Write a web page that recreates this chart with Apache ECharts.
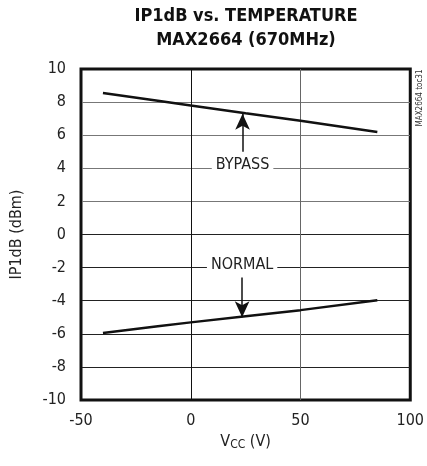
<!DOCTYPE html>
<html><head><meta charset="utf-8">
<script src="https://cdn.jsdelivr.net/npm/echarts@6/dist/echarts.min.js"></script>
<style>html,body{margin:0;padding:0;background:#fff}#c{width:427px;height:466px}</style>
</head><body><div id="c"></div>
<script>
var FONT = "'Liberation Sans Narrow', 'DejaVu Sans Condensed', 'Roboto', sans-serif";
var temps = [-40, -15, 0, 25, 50, 85];
var bypass = [8.55, 8.08, 7.79, 7.32, 6.87, 6.2];
var normal = [-5.95, -5.55, -5.31, -4.94, -4.57, -3.97];
var xTicks = [-50, 0, 50, 100];
var yTicks = [-10, -8, -6, -4, -2, 0, 2, 4, 6, 8, 10];
var bypassArrow = [[23.6, 5.0], [23.6, 7.3]];
var normalArrow = [[23.4, -2.6], [23.4, -5.0]];
var bypassLabel = [23.6, 4];
var normalLabel = [23.4, -2];

function pairs(xs, ys){ return xs.map(function(x,i){return [x, ys[i]];}); }

var chart = echarts.init(document.getElementById('c'));
chart.setOption({
  animation: false,
  backgroundColor: '#fff',
  grid: {left: 81, right: 13, top: 69, bottom: 66, show: true, borderColor: '#111', borderWidth: 3},
  xAxis: {
    type: 'value', min: xTicks[0], max: xTicks[xTicks.length-1], interval: 50,
    axisLine: {show: false}, axisTick: {show: false},
    splitLine: {show: true, lineStyle: {color: ['#111', '#111', '#666', '#111'], width: 1}},
    axisLabel: {fontFamily: FONT, fontSize: 16, color: '#222', margin: 13},
    name: 'V{s|CC} (V)', nameLocation: 'middle', nameGap: 28,
    nameTextStyle: {fontFamily: FONT, fontSize: 16, color: '#222',
      rich: {s: {fontFamily: FONT, fontSize: 12, color: '#222', verticalAlign: 'bottom', padding: [6,0,0,0]}}}
  },
  yAxis: {
    type: 'value', min: yTicks[0], max: yTicks[yTicks.length-1], interval: 2,
    axisLine: {show: false}, axisTick: {show: false},
    splitLine: {show: true, lineStyle: {color: ['#111','#222','#222','#222','#222','#222','#777','#777','#777','#777','#111'], width: 1}},
    axisLabel: {fontFamily: FONT, fontSize: 16, color: '#222', margin: 15},
    name: 'IP1dB (dBm)', nameLocation: 'middle', nameGap: 56,
    nameTextStyle: {fontFamily: FONT, fontSize: 16, color: '#222'}
  },
  graphic: [{
    type: 'text', x: 246, y: 16,
    style: {text: 'IP1dB vs. TEMPERATURE', font: 'bold 18px ' + FONT, fill: '#111', align: 'center', verticalAlign: 'middle'}
  }, {
    type: 'text', x: 246, y: 40,
    style: {text: 'MAX2664 (670MHz)', font: 'bold 18px ' + FONT, fill: '#111', align: 'center', verticalAlign: 'middle'}
  }, {
    type: 'text', x: 420, y: 98, rotation: Math.PI/2,
    style: {text: 'MAX2664 toc31', font: '8px ' + FONT, fill: '#333', align: 'center', verticalAlign: 'middle'}
  }],
  series: [
    {type: 'line', data: pairs(temps, bypass), symbol: 'none',
      lineStyle: {color: '#111', width: 2.5},
      markLine: {silent: true, symbol: ['none', 'arrow'], symbolSize: [11, 16], label: {show: false},
        lineStyle: {color: '#111', width: 1.5, type: 'solid'},
        data: [[{coord: bypassArrow[0]}, {coord: bypassArrow[1]}]]},
      markPoint: {symbol: 'rect', symbolSize: 1, itemStyle: {color: 'transparent'},
        label: {show: true, formatter: 'BYPASS', position: 'inside', fontFamily: FONT, fontSize: 16, color: '#222',
          backgroundColor: '#fff', padding: [2, 4, 2, 4], offset: [0, -3]},
        data: [{coord: bypassLabel}]}
    },
    {type: 'line', data: pairs(temps, normal), symbol: 'none',
      lineStyle: {color: '#111', width: 2.5},
      markLine: {silent: true, symbol: ['none', 'arrow'], symbolSize: [11, 16], label: {show: false},
        lineStyle: {color: '#111', width: 1.5, type: 'solid'},
        data: [[{coord: normalArrow[0]}, {coord: normalArrow[1]}]]},
      markPoint: {symbol: 'rect', symbolSize: 1, itemStyle: {color: 'transparent'},
        label: {show: true, formatter: 'NORMAL', position: 'inside', fontFamily: FONT, fontSize: 16, color: '#222',
          backgroundColor: '#fff', padding: [2, 4, 2, 4], offset: [0, -3]},
        data: [{coord: normalLabel}]}
    }
  ]
});
</script></body></html>
